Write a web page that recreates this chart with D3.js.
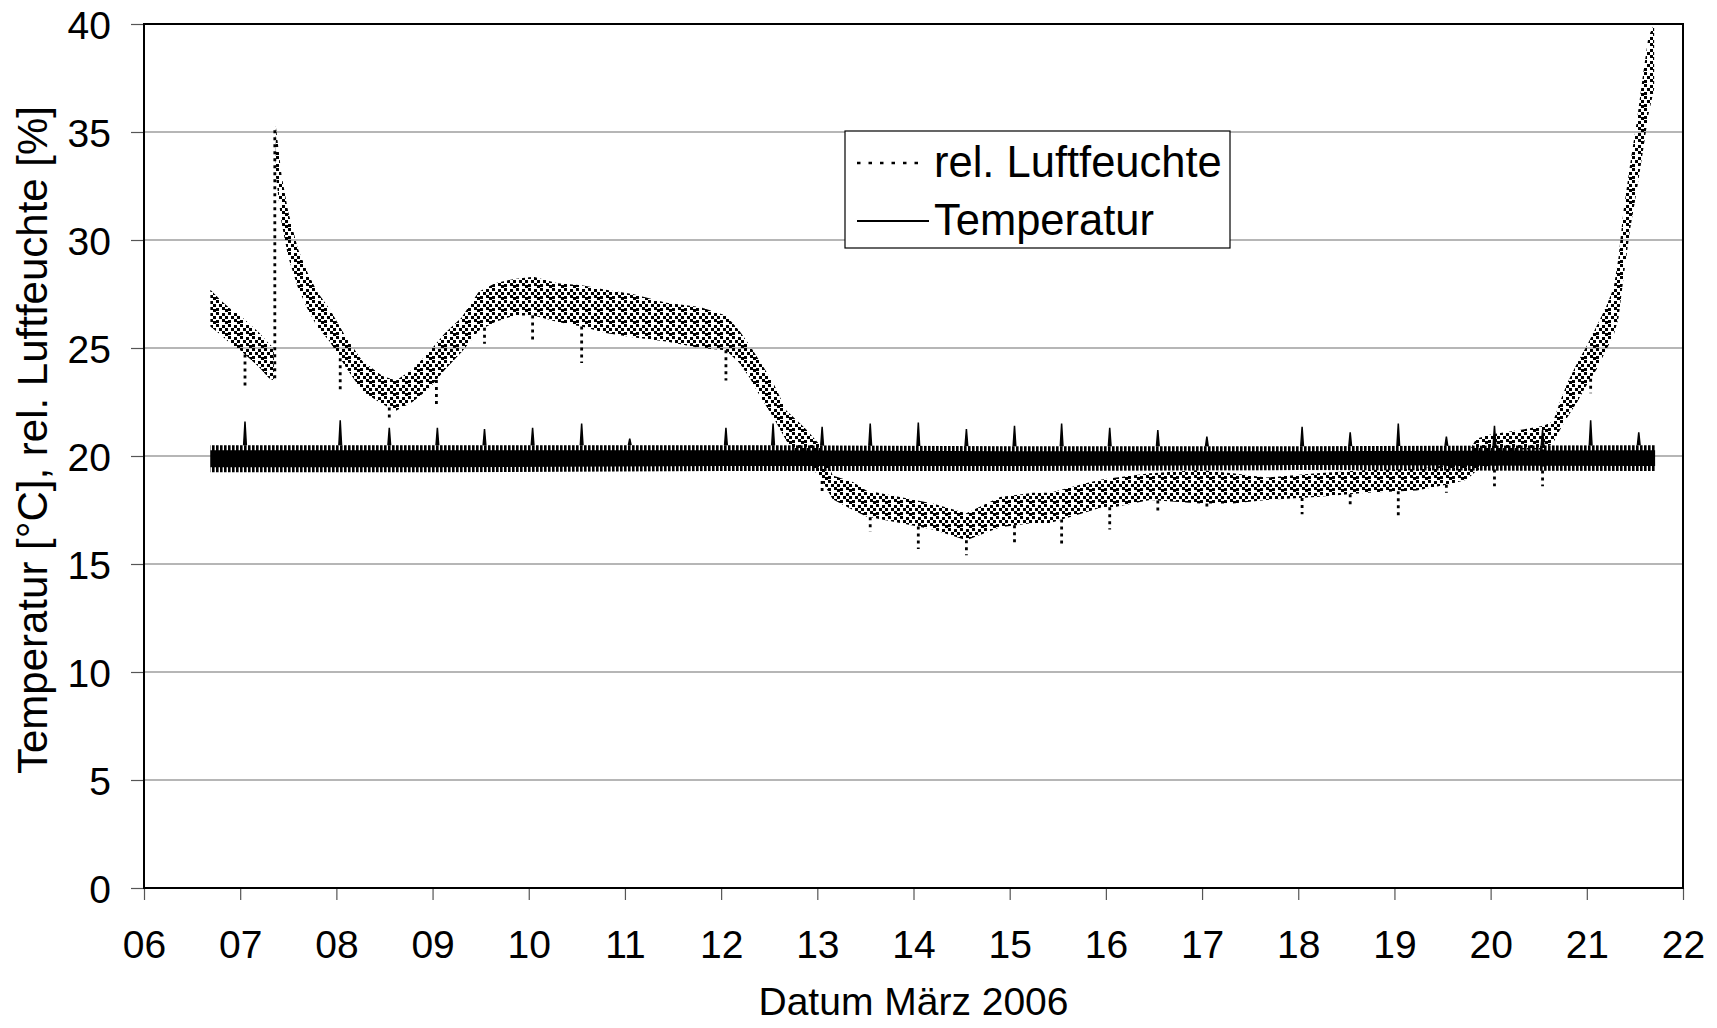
<!DOCTYPE html>
<html>
<head>
<meta charset="utf-8">
<script src="https://cdn.jsdelivr.net/npm/d3@7"></script>
<style>
  body { margin: 0; background: #fff; }
  svg { display: block; }
  text { font-family: "Liberation Sans", Arial, sans-serif; fill: #000; }
</style>
</head>
<body>
<div id="chart"></div>
<script>
// rel. Luftfeuchte: band (lower / upper edge of the dotted cloud)
// null = break in the band (the jump at 07.36 is drawn as its own dotted line)
const humDays = [6.69, 6.8, 6.9, 7.0, 7.1, 7.2, 7.3, 7.35, 7.36, 7.37, 7.43, 7.5, 7.6, 7.7, 7.8, 7.93,
  8.1, 8.27, 8.48, 8.62, 8.79, 8.96, 9.13, 9.3, 9.48, 9.65, 9.85, 10.05, 10.3, 10.55, 10.8,
  11.08, 11.43, 11.78, 12.05, 12.19, 12.3, 12.4, 12.54, 12.68, 12.8, 12.89, 13.03, 13.16,
  13.37, 13.51, 13.86, 14.2, 14.55, 14.9, 15.24, 15.42, 15.76, 15.94, 16.11, 16.46, 16.98,
  17.32, 17.67, 18.19, 18.71, 19.23, 19.58, 19.75, 19.85, 20.0, 20.3, 20.55, 20.65, 20.72,
  20.8, 20.9, 21.0, 21.1, 21.2, 21.28, 21.33, 21.38, 21.45, 21.52, 21.58, 21.64, 21.7];
const humLow = [26.0, 25.6, 25.2, 24.9, 24.5, 24.1, 23.6, 23.5, null, 33.0, 30.8, 29.2, 27.8, 26.8, 26.0, 25.3,
  24.1, 23.0, 22.4, 22.1, 22.5, 23.1, 24.0, 24.8, 25.8, 26.2, 26.5, 26.5, 26.2, 26.0, 25.7,
  25.5, 25.3, 25.0, 24.9, 24.3, 23.6, 22.8, 21.8, 20.7, 20.0, 19.7, 19.0, 18.0,
  17.5, 17.2, 16.9, 16.6, 16.1, 16.7, 16.9, 16.9, 17.35, 17.6, 17.65, 17.96, 17.8,
  17.8, 17.96, 18.1, 18.3, 18.4, 18.7, 18.9, 19.3, 19.6, 20.3, 20.3, 20.6, 21.2,
  21.8, 22.5, 23.3, 24.0, 24.9, 25.6, 26.4, 28.2, 30.5, 32.3, 34.0, 35.8, 37.0];
const humHigh = [27.7, 27.2, 26.8, 26.5, 26.1, 25.7, 25.2, 25.0, null, 35.3, 33.0, 31.3, 29.6, 28.5, 27.6, 26.8,
  25.5, 24.4, 23.7, 23.5, 24.0, 24.8, 25.7, 26.4, 27.6, 28.0, 28.2, 28.3, 28.0, 27.9, 27.7,
  27.5, 27.1, 26.9, 26.5, 25.8, 25.1, 24.4, 23.4, 22.1, 21.6, 21.2, 20.5, 19.1,
  18.8, 18.4, 18.1, 17.8, 17.35, 18.1, 18.3, 18.3, 18.7, 18.9, 19.0, 19.2, 19.35,
  19.2, 19.0, 19.2, 19.35, 19.4, 19.6, 20.0, 20.8, 21.0, 21.2, 21.4, 21.6, 22.5,
  23.4, 24.3, 25.1, 26.0, 26.9, 27.8, 29.2, 31.3, 33.5, 35.5, 37.5, 39.4, 40.0];
// jump of the humidity at 07.36
const humJumpDay = [7.36];
const humJumpFrom = [23.6];
const humJumpTo = [35.2];
// single downward outliers of the humidity
const humSpikeDays = [7.05, 8.04, 8.55, 9.04, 9.54, 10.04, 10.55, 12.05, 13.05, 13.55, 14.05, 14.55,
  15.05, 15.54, 16.04, 16.54, 17.05, 18.04, 18.54, 19.04, 19.54, 20.04, 20.54, 21.04];
const humSpikeVals = [23.2, 22.9, 21.6, 22.3, 25.2, 25.3, 24.3, 23.5, 18.2, 16.5, 15.7, 15.4,
  16.0, 15.8, 16.6, 17.3, 17.6, 17.3, 17.7, 17.2, 18.3, 18.6, 18.6, 22.9];

// Temperatur: band of the fast oscillation plus the short peaks
const tempDays = [6.69, 9.0, 12.0, 15.0, 18.0, 21.71];
const tempLow = [19.25, 19.25, 19.3, 19.3, 19.35, 19.3];
const tempHigh = [20.5, 20.5, 20.5, 20.45, 20.45, 20.5];
const tempSpikeDays = [7.05, 8.04, 8.55, 9.05, 9.54, 10.04, 10.55, 11.05, 12.05, 12.54, 13.05, 13.55,
  14.05, 14.55, 15.05, 15.54, 16.04, 16.54, 17.05, 18.04, 18.54, 19.04, 19.54, 20.04, 20.54, 21.04, 21.54];
const tempSpikeVals = [21.6, 21.65, 21.3, 21.3, 21.25, 21.3, 21.5, 20.8, 21.3, 21.5, 21.35, 21.5,
  21.55, 21.25, 21.4, 21.5, 21.3, 21.2, 20.9, 21.35, 21.1, 21.5, 20.9, 21.4, 21.2, 21.65, 21.1];

const xTicks = [6, 7, 8, 9, 10, 11, 12, 13, 14, 15, 16, 17, 18, 19, 20, 21, 22];
const yTicks = [0, 5, 10, 15, 20, 25, 30, 35, 40];
const legendLabels = ['rel. Luftfeuchte', 'Temperatur'];

const width = 1717, height = 1028;
const margin = { top: 24, right: 34, bottom: 140, left: 144 };

const svg = d3.select('#chart').append('svg')
  .attr('width', width).attr('height', height);

const x = d3.scaleLinear().domain([6, 22]).range([margin.left, width - margin.right]);
const y = d3.scaleLinear().domain([0, 40]).range([height - margin.bottom, margin.top]);

// patterns for the two dense series
const defs = svg.append('defs');
const dots = defs.append('pattern').attr('id', 'humDots')
  .attr('patternUnits', 'userSpaceOnUse').attr('width', 12).attr('height', 12);
[[0, 0], [6, 1], [3, 4], [9, 4], [0, 8], [6, 7], [9, 9]].forEach(function (p) {
  dots.append('rect').attr('x', p[0]).attr('y', p[1]).attr('width', 3).attr('height', 3).attr('fill', '#000');
});
const teeth = defs.append('pattern').attr('id', 'tempTeeth')
  .attr('patternUnits', 'userSpaceOnUse').attr('width', 4).attr('height', 40);
teeth.append('rect').attr('x', 0).attr('y', 0).attr('width', 2.6).attr('height', 40).attr('fill', '#000');

// G R I D
svg.append('g').selectAll('line').data(yTicks.filter(d => d > 0 && d < 40)).enter().append('line')
  .attr('x1', x(6)).attr('x2', x(22))
  .attr('y1', d => y(d)).attr('y2', d => y(d))
  .attr('stroke', '#6e6e6e').attr('stroke-width', 1.2);

// A X E S
const xAxis = svg.append('g').attr('transform', 'translate(0,' + y(0) + ')')
  .call(d3.axisBottom(x).tickValues(xTicks).tickFormat(d3.format('02d')).tickSize(12).tickPadding(30));
const yAxis = svg.append('g').attr('transform', 'translate(' + x(6) + ',0)')
  .call(d3.axisLeft(y).tickValues(yTicks).tickSize(13).tickPadding(20));
[xAxis, yAxis].forEach(function (a) {
  a.select('.domain').remove();
  a.selectAll('.tick line').attr('stroke', '#555').attr('stroke-width', 1.2);
  a.selectAll('.tick text').style('font-size', '39px').attr('fill', '#000');
});
yAxis.selectAll('.tick text').attr('dy', '0.36em');

// T E M P E R A T U R
const tempPts = tempDays.map((d, i) => ({ day: d, low: tempLow[i], high: tempHigh[i] }));
svg.append('path').datum(tempPts)
  .attr('fill', 'url(#tempTeeth)')
  .attr('d', d3.area().x(d => x(d.day)).y0(d => y(d.low)).y1(d => y(d.high)));
svg.append('path').datum(tempPts)
  .attr('fill', '#000')
  .attr('d', d3.area().x(d => x(d.day)).y0(d => y(d.low) - 5).y1(d => y(d.high) + 5));
const tempTop = d3.scaleLinear().domain(tempDays).range(tempHigh);
svg.append('g').selectAll('path').data(tempSpikeDays).enter().append('path')
  .attr('fill', '#000').attr('stroke', '#000').attr('stroke-width', 1.5)
  .attr('d', (d, i) => d3.line()([
    [x(d - 0.014), y(tempTop(d))], [x(d), y(tempSpikeVals[i])], [x(d + 0.014), y(tempTop(d))]
  ]));

// R E L.  L U F T F E U C H T E
const humPts = humDays.map((d, i) => ({ day: d, low: humLow[i], high: humHigh[i] }));
svg.append('path').datum(humPts)
  .attr('fill', 'url(#humDots)')
  .attr('d', d3.area().defined(d => d.low != null)
    .x(d => x(d.day)).y0(d => y(d.low)).y1(d => y(d.high)));
const humOk = humPts.filter(d => d.low != null);
const humBottom = d3.scaleLinear().domain(humOk.map(d => d.day)).range(humOk.map(d => d.low));
svg.append('g').selectAll('line').data(humSpikeDays).enter().append('line')
  .attr('x1', d => x(d)).attr('x2', d => x(d))
  .attr('y1', d => y(humBottom(d))).attr('y2', (d, i) => y(humSpikeVals[i]))
  .attr('stroke', '#000').attr('stroke-width', 2.8).attr('stroke-dasharray', '3,4');
svg.append('g').selectAll('line').data(humJumpDay).enter().append('line')
  .attr('x1', d => x(d)).attr('x2', d => x(d))
  .attr('y1', (d, i) => y(humJumpFrom[i])).attr('y2', (d, i) => y(humJumpTo[i]))
  .attr('stroke', '#000').attr('stroke-width', 2.8).attr('stroke-dasharray', '3,4');

// F R A M E
svg.append('rect')
  .attr('x', x(6)).attr('y', y(40))
  .attr('width', x(22) - x(6)).attr('height', y(0) - y(40))
  .attr('fill', 'none').attr('stroke', '#000').attr('stroke-width', 2);

// A X I S  T I T L E S
svg.append('text')
  .attr('x', (x(6) + x(22)) / 2).attr('y', 1015)
  .attr('text-anchor', 'middle').style('font-size', '39px')
  .text('Datum März 2006');
svg.append('text')
  .attr('transform', 'translate(47,' + ((y(0) + y(40)) / 2 - 16) + ') rotate(-90)')
  .attr('text-anchor', 'middle').style('font-size', '42px')
  .text('Temperatur [°C], rel. Luftfeuchte [%]');

// L E G E N D
const legend = svg.append('g').attr('transform', 'translate(845,131)');
legend.append('rect').attr('width', 385).attr('height', 117)
  .attr('fill', '#fff').attr('stroke', '#000').attr('stroke-width', 1.2);
legend.selectAll('line').data(legendLabels).enter().append('line')
  .attr('x1', 12).attr('x2', (d, i) => i === 0 ? 78 : 84)
  .attr('y1', (d, i) => 32 + i * 58).attr('y2', (d, i) => 32 + i * 58)
  .attr('stroke', '#000').attr('stroke-width', (d, i) => i === 0 ? 2.6 : 2)
  .attr('stroke-dasharray', (d, i) => i === 0 ? '3.5,8' : null);
legend.selectAll('text').data(legendLabels).enter().append('text')
  .attr('x', 89).attr('y', (d, i) => 46 + i * 58)
  .style('font-size', '43.5px')
  .text(d => d);
</script>
</body>
</html>
